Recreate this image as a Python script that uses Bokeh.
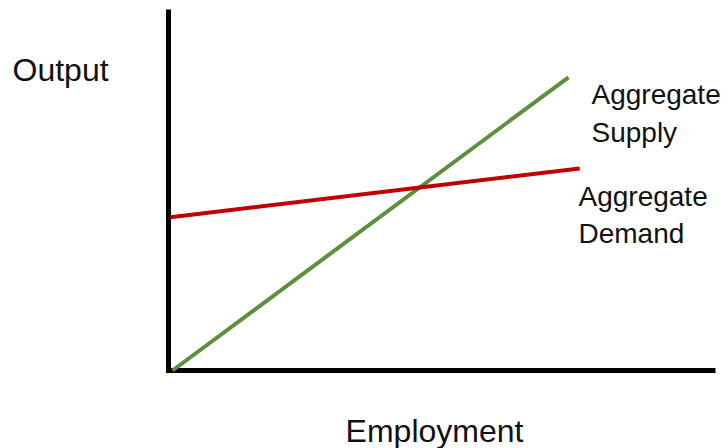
from bokeh.plotting import figure
from bokeh.models import Range1d, Label
from bokeh.embed import file_html
from bokeh.resources import INLINE

# Data (employment units on x, output units on y)
supply_x = [0.1, 10.0]
supply_y = [0.0, 7.33]
demand_x = [0.05, 10.28]
demand_y = [3.83, 5.05]

supply_label = ["Aggregate", "Supply"]
demand_label = ["Aggregate", "Demand"]
x_title = "Employment"
y_title = "Output"

# axis extents (data units)
x_axis_end = 13.675
y_axis_end = 9.025

FONT = "Liberation Sans"

p = figure(width=728, height=448, output_backend="svg", toolbar_location=None,
           x_range=Range1d(-4.2, 14.0), y_range=Range1d(-1.95, 9.25),
           x_axis_location=None, y_axis_location=None,
           min_border=0)
p.outline_line_color = None
p.grid.visible = False
p.background_fill_color = "white"
p.border_fill_color = "white"

# axes
half = 2.5 / 40
p.segment(x0=[0, -half], y0=[-half, 0], x1=[0, x_axis_end], y1=[y_axis_end, 0],
          line_color="black", line_width=5, line_cap="butt")

p.line(supply_x, supply_y, line_color="#5E8F3C", line_width=4)
p.line(demand_x, demand_y, line_color="#C00000", line_width=4)

def add(text, x, y, size, align="left"):
    p.add_layout(Label(x=x, y=y, text=text, text_font=FONT, text_font_size=size,
                       text_color="#111111", text_align=align, text_baseline="alphabetic"))

add(supply_label[0], 10.575, 6.9, "28px")
add(supply_label[1], 10.575, 5.95, "28px")
add(demand_label[0], 10.25, 4.36, "28px")
add(demand_label[1], 10.25, 3.43, "28px")
add(y_title, -3.9, 7.52, "32px")
add(x_title, 6.65, -1.5, "32px", align="center")

open("out.html", "w").write(file_html(p, INLINE))
